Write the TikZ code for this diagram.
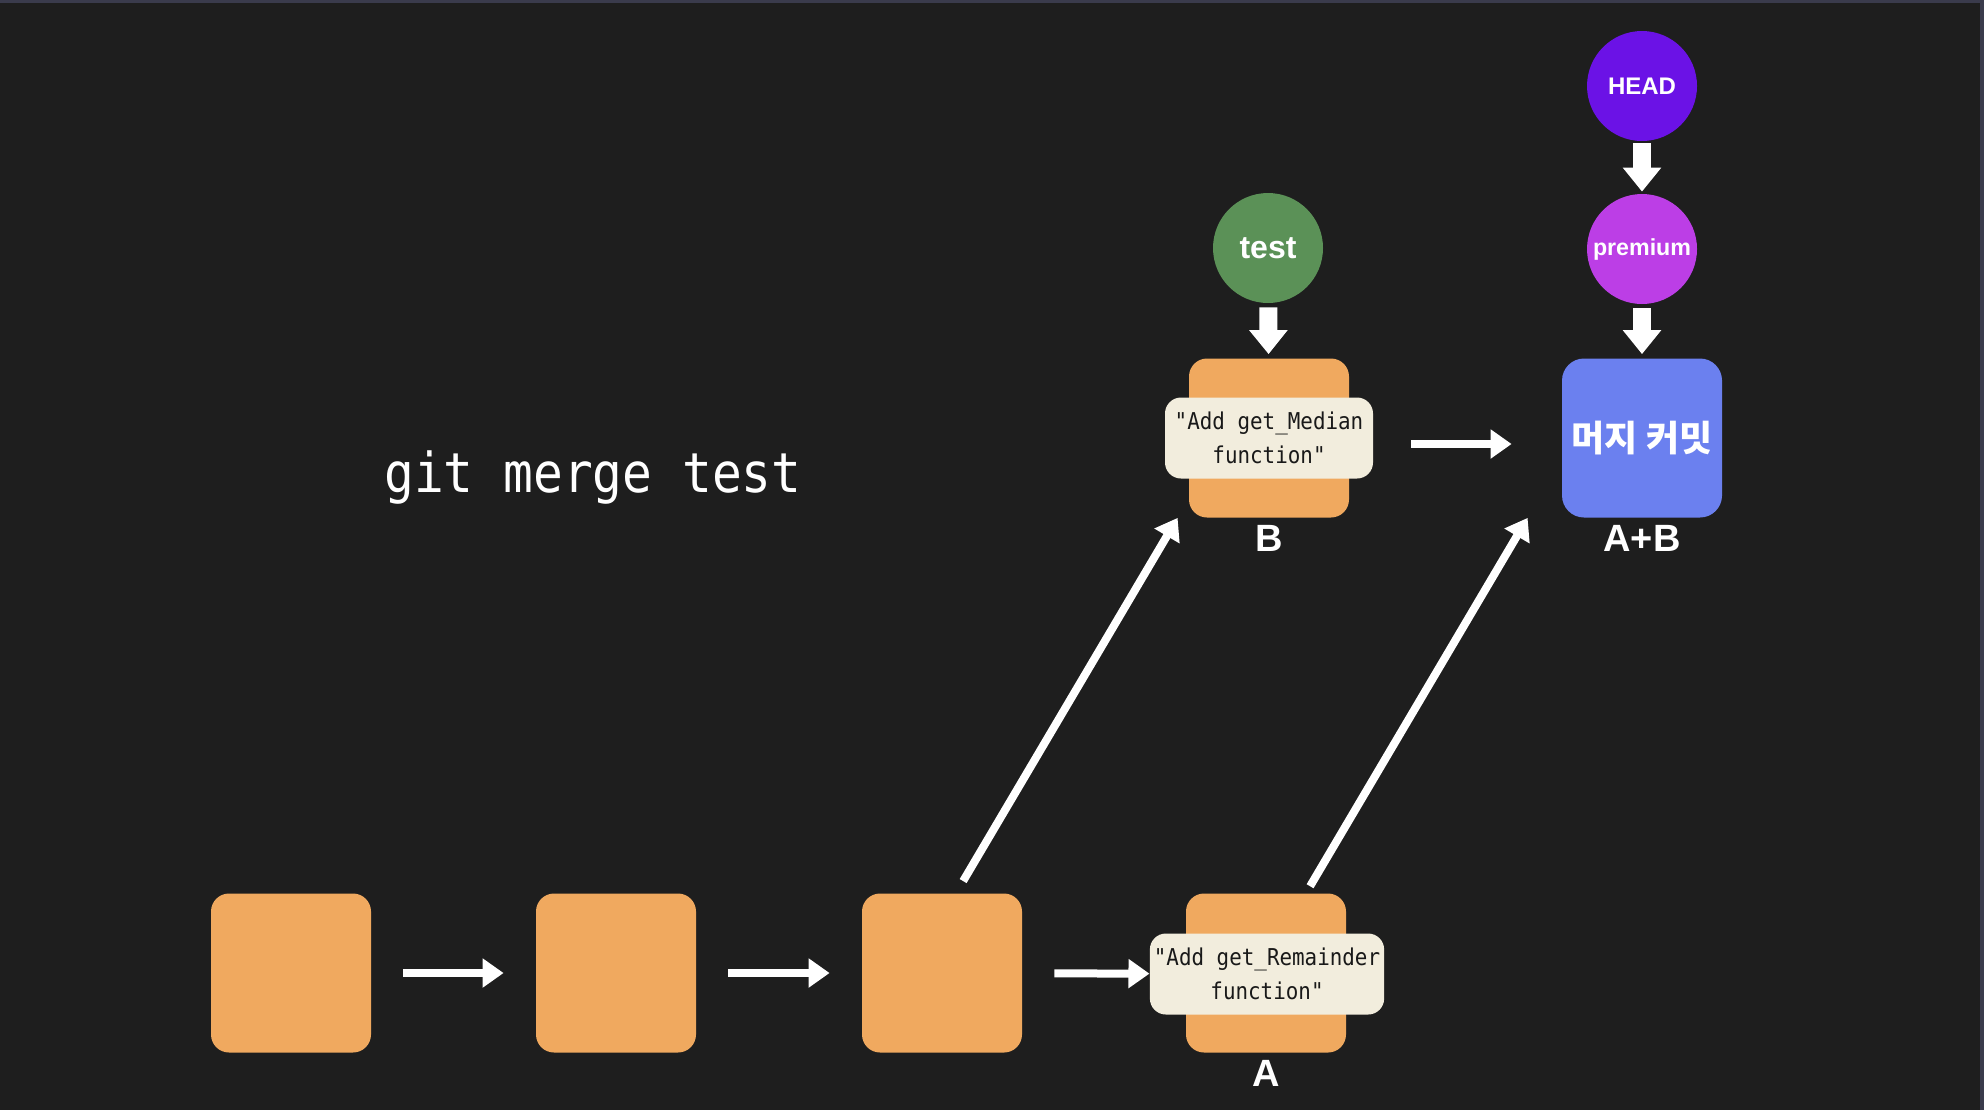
\documentclass[tikz,border=0pt]{standalone}
\usepackage{fontspec}
\usepackage{xcolor}
\usepackage{tikz}
\usetikzlibrary{arrows.meta, positioning}
\setmainfont{Liberation Sans}
\newfontfamily\codefont{DejaVu Sans Mono}[FakeStretch=0.9, Ligatures=TeXOff]
\newfontfamily\korfont{Noto Sans CJK KR}
\definecolor{bg}{HTML}{1E1E1E}
\definecolor{frame}{HTML}{3A3B4C}
\definecolor{commitorange}{HTML}{F0A95F}
\definecolor{msgcream}{HTML}{F2EDDD}
\definecolor{mergeblue}{HTML}{6B80EF}
\definecolor{headpurple}{HTML}{6B12E6}
\definecolor{premiumpink}{HTML}{BC3EE6}
\definecolor{testgreen}{HTML}{5B9157}

\begin{document}
\begin{tikzpicture}[x=0.5pt, y=-0.5pt,
    commit/.style = {rectangle, rounded corners=9pt, fill=commitorange, minimum width=80pt, minimum height=79.5pt},
    msg/.style = {rectangle, rounded corners=8pt, fill=msgcream, minimum height=40.5pt, inner xsep=2pt, align=center, text=black!90, font=\codefont\fontsize{11.6}{17}\selectfont},
    ref/.style = {circle, minimum size=55pt, inner sep=0pt, text=white, font=\bfseries\fontsize{12}{14}\selectfont},
    lbl/.style = {text=white, font=\bfseries\fontsize{19}{22}\selectfont},
    flow/.style = {white, line width=4pt, -{Triangle[length=10.5pt, width=14pt]}},
    push/.style = {white, line width=9pt, -{Triangle[length=12pt, width=18.5pt]}}]
        \useasboundingbox (0, 0) rectangle (1984, 1110);
        \fill [bg] (0, 0) rectangle (1984, 1110);
        \fill [frame] (0, 0) rectangle (1984, 3);
        \fill [frame] (1980, 0) rectangle (1984, 1110);

        \node (cmd) at (593, 492) [anchor = base, text = white, font = \codefont\fontsize{27.5}{30}\selectfont] {git merge test};

        \node (c1) at (291, 973) [commit] {};
        \node (c2) at (616, 973) [commit] {};
        \node (c3) at (942, 973) [commit] {};
        \node (cA) at (1266, 973) [commit] {};
        \node (cB) at (1269, 438) [commit] {};
        \node (merge) at (1642, 438) [commit, fill = mergeblue, rounded corners = 11pt, text = white, font = \korfont\bfseries\fontsize{18}{20}\selectfont] {머지 커밋};

        \node (msgA) at (1267, 974) [msg, minimum width = 117pt] {"Add get\_Remainder\\function"};
        \node (msgB) at (1269, 438) [msg, minimum width = 104pt] {"Add get\_Median\\function"};

        \node (test) at (1268, 248) [ref, fill = testgreen, font = \bfseries\fontsize{16}{18}\selectfont] {test};
        \node (head) at (1642, 86) [ref, fill = headpurple] {HEAD};
        \node (premium) at (1642, 249) [ref, fill = premiumpink, font = \bfseries\fontsize{11.6}{14}\selectfont] {premium};

        \node (lblA) [lbl, below = 0pt of cA] {A};
        \node (lblB) [lbl, below = 0pt of cB] {B};
        \node (lblAB) [lbl, below = 0pt of merge] {A+B};

        \draw [flow, shorten < = 16pt, shorten > = 16pt] (c1) -- (c2);
        \draw [flow, shorten < = 16pt, shorten > = 16pt] (c2) -- (c3);
        \draw [flow, shorten < = 16pt] (c3) -- (msgA);
        \draw [flow, shorten < = 19pt, shorten > = 25pt] ([yshift = -3pt]msgB.east) -- ([yshift = -3pt]merge.west);
        \draw [flow, shorten < = 7pt] ([xshift = 7pt]c3.north) -- ([xshift = -5.5pt]cB.south west);
        \draw [flow, shorten < = 4pt] ([xshift = 20pt]cA.north) -- ([xshift = -17pt]merge.south west);
        \draw [push, shorten < = 2pt, shorten > = 2pt] (test) -- (cB);
        \draw [push, shorten < = 1pt, shorten > = 1pt] (head) -- (premium);
        \draw [push, shorten < = 2pt, shorten > = 2pt] (premium) -- (merge);
    \end{tikzpicture}
\end{document}
